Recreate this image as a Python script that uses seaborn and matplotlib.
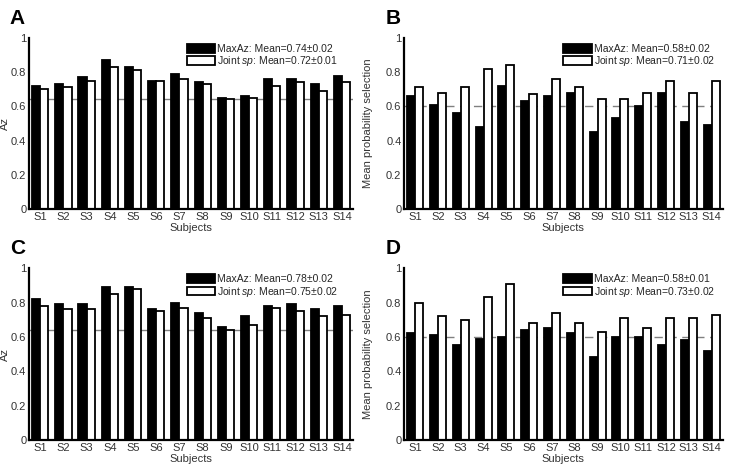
import pandas as pd
import seaborn as sns
from matplotlib import pyplot as plt

SUBJECTS = [f"S{i}" for i in range(1, 15)]

# Panel A: Az per subject
A_MAXAZ = [0.72, 0.73, 0.77, 0.87, 0.83, 0.75, 0.79, 0.74, 0.65, 0.66, 0.76, 0.76, 0.73, 0.78]
A_JOINT = [0.70, 0.71, 0.75, 0.83, 0.81, 0.75, 0.76, 0.73, 0.64, 0.65, 0.72, 0.74, 0.69, 0.74]
# Panel B: mean probability selection
B_MAXAZ = [0.66, 0.61, 0.56, 0.48, 0.72, 0.63, 0.66, 0.68, 0.45, 0.53, 0.60, 0.68, 0.51, 0.49]
B_JOINT = [0.71, 0.68, 0.71, 0.82, 0.84, 0.67, 0.76, 0.71, 0.64, 0.64, 0.68, 0.75, 0.68, 0.75]
# Panel C: Az per subject
C_MAXAZ = [0.82, 0.79, 0.79, 0.89, 0.89, 0.76, 0.80, 0.74, 0.66, 0.72, 0.78, 0.79, 0.76, 0.78]
C_JOINT = [0.78, 0.76, 0.76, 0.85, 0.88, 0.75, 0.77, 0.71, 0.64, 0.67, 0.77, 0.75, 0.72, 0.73]
# Panel D: mean probability selection
D_MAXAZ = [0.62, 0.61, 0.55, 0.59, 0.60, 0.64, 0.65, 0.62, 0.48, 0.60, 0.60, 0.55, 0.58, 0.52]
D_JOINT = [0.80, 0.72, 0.70, 0.83, 0.91, 0.68, 0.74, 0.68, 0.63, 0.71, 0.65, 0.71, 0.71, 0.73]

PANELS = [
    ("A", A_MAXAZ, A_JOINT, "MaxAz: Mean=0.74±0.02", "Joint $\\it{sp}$: Mean=0.72±0.01", "Az", 0.64),
    ("B", B_MAXAZ, B_JOINT, "MaxAz: Mean=0.58±0.02", "Joint $\\it{sp}$: Mean=0.71±0.02", "Mean probability selection", 0.60),
    ("C", C_MAXAZ, C_JOINT, "MaxAz: Mean=0.78±0.02", "Joint $\\it{sp}$: Mean=0.75±0.02", "Az", 0.64),
    ("D", D_MAXAZ, D_JOINT, "MaxAz: Mean=0.58±0.01", "Joint $\\it{sp}$: Mean=0.73±0.02", "Mean probability selection", 0.60),
]

# axes rectangles in figure fraction (left, bottom, width, height)
RECTS = {
    "A": (0.0395, 0.558, 0.441, 0.362),
    "B": (0.550, 0.558, 0.433, 0.362),
    "C": (0.0395, 0.070, 0.441, 0.363),
    "D": (0.550, 0.070, 0.433, 0.363),
}

sns.set_style("white")
plt.rcParams["font.family"] = ["Liberation Sans", "DejaVu Sans"]
plt.rcParams["mathtext.fontset"] = "custom"
plt.rcParams["mathtext.it"] = "Liberation Sans:italic"

fig = plt.figure(figsize=(7.35, 4.73), dpi=100)

for letter, maxaz, joint, lab1, lab2, ylabel, thr in PANELS:
    ax = fig.add_axes(RECTS[letter])
    df = pd.DataFrame({
        "subject": SUBJECTS * 2,
        "value": maxaz + joint,
        "method": ["MaxAz"] * 14 + ["Joint"] * 14,
    })
    # chance / threshold reference line
    ax.axhline(thr, color="#808080", lw=1.0,
               ls="-" if letter in ("A", "C") else (0, (6, 4)), zorder=0)
    sns.barplot(data=df, x="subject", y="value", hue="method",
                palette=["black", "white"], edgecolor="black", linewidth=1.3,
                width=0.7, gap=0, ax=ax, legend=False, zorder=2)
    ax.set_xlim(-0.48, 13.48)
    ax.set_ylim(0, 1)
    ax.set_yticks([0, 0.2, 0.4, 0.6, 0.8, 1.0])
    ax.set_yticklabels(["0", "0.2", "0.4", "0.6", "0.8", "1"])
    ax.tick_params(axis="both", labelsize=8, colors="#333333", length=0, pad=2)
    for s in ("top", "right"):
        ax.spines[s].set_visible(False)
    for s in ("left", "bottom"):
        ax.spines[s].set_color("black")
        ax.spines[s].set_linewidth(1.6)
    ax.set_xlabel("Subjects", fontsize=8, color="#333333", labelpad=1)
    ax.set_ylabel(ylabel, fontsize=8, color="#333333")
    ax.yaxis.set_label_coords(-0.06 if letter in ("A", "C") else -0.097, 0.5)

    handles = [ax.containers[0].patches[0], ax.containers[1].patches[0]]
    ax.legend(handles, [lab1, lab2], loc="upper left",
              bbox_to_anchor=(0.488 if letter in ("A", "C") else 0.5, 0.965),
              frameon=False, fontsize=7.5, handlelength=2.7, handleheight=0.9,
              labelspacing=0.05, handletextpad=0.2, borderpad=0, borderaxespad=0)

    x0, y0, w, h = RECTS[letter]
    fig.text(x0 - 0.026, y0 + h + 0.062, letter, fontsize=15, fontweight="bold",
             va="top", ha="left", color="black")

fig.savefig("out.png", dpi=100)
